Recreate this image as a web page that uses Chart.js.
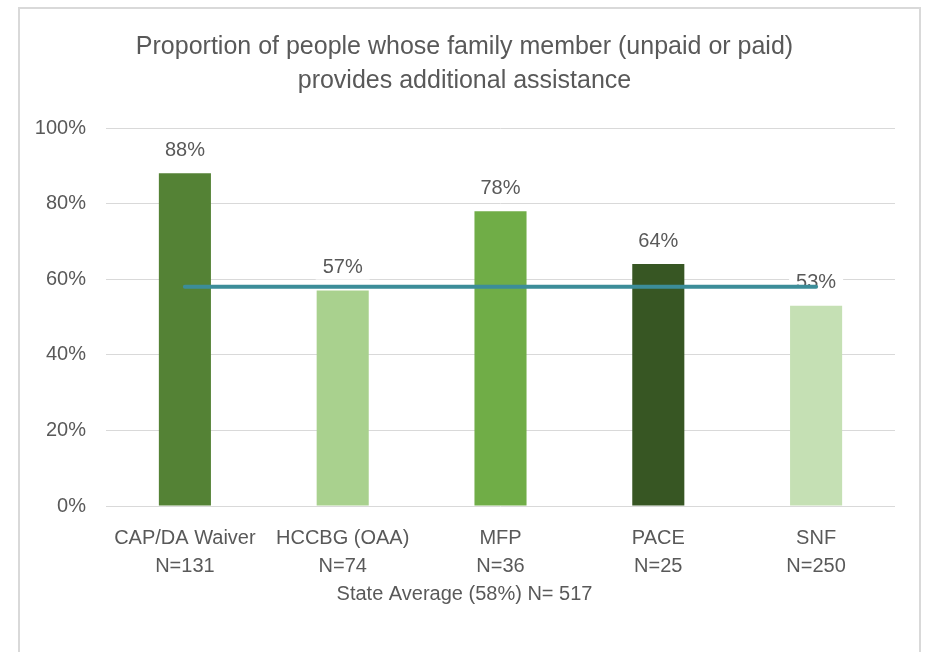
<!DOCTYPE html>
<html>
<head>
<meta charset="utf-8">
<script src="https://cdn.jsdelivr.net/npm/chart.js@4/dist/chart.umd.min.js"></script>
<style>
  html, body { margin: 0; padding: 0; background: #fff; overflow: hidden; }
  #frame {
    position: absolute; left: 18px; top: 7px;
    width: 899px; height: 660px;
    border: 2px solid #d9d9d9;
  }
  #myChart { position: absolute; left: 34px; top: 9px; display: block; }
</style>
</head>
<body>
<div id="frame"></div>
<canvas id="myChart" width="885" height="643"></canvas>
<script>
const CATEGORIES = ['CAP/DA Waiver', 'HCCBG (OAA)', 'MFP', 'PACE', 'SNF'];
const N_LABELS = ['N=131', 'N=74', 'N=36', 'N=25', 'N=250'];
const VALUES = [88, 57, 78, 64, 53];
const STATE_AVERAGE = [58, 58, 58, 58, 58];
const BAR_COLORS = ['#548235', '#a9d18e', '#70ad47', '#375623', '#c5e0b4'];
const Y_TICKS = [0, 20, 40, 60, 80, 100];

const TEXT = '#595959';
const FONT = "'Liberation Sans', Arial, sans-serif";

// labels above bars, white box behind them (line is drawn after, on top)
const barLabels = {
    id: 'barLabels',
    afterDatasetDraw(chart, args) {
        if (args.index !== 0) return;
        const ctx = chart.ctx;
        ctx.save();
        ctx.font = '20px ' + FONT;
        ctx.textAlign = 'center';
        ctx.textBaseline = 'middle';
        args.meta.data.forEach((bar, i) => {
            const txt = VALUES[i] + '%';
            const w = ctx.measureText(txt).width;
            const y = bar.y - 23;
            ctx.fillStyle = '#fff';
            ctx.fillRect(bar.x - w / 2 - 7, y - 12, w + 14, 24);
            ctx.fillStyle = TEXT;
            ctx.fillText(txt, bar.x, y);
        });
        ctx.restore();
    }
};

let ctx = document.getElementById('myChart').getContext('2d');

let chart = new Chart(ctx, {
    type: 'bar',
    data: {
        labels: CATEGORIES.map((c, i) => [c, N_LABELS[i]]),
        datasets: [{
            type: 'bar',
            label: 'Proportion',
            data: VALUES,
            backgroundColor: BAR_COLORS,
            barPercentage: 0.33,
            categoryPercentage: 1,
            order: 1
        }, {
            type: 'line',
            label: 'State Average',
            data: STATE_AVERAGE,
            borderColor: '#3c8d99',
            borderWidth: 4,
            borderCapStyle: 'round',
            pointRadius: 0,
            fill: false,
            order: 0
        }]
    },
    options: {
        responsive: false,
        animation: false,
        layout: { padding: { left: 0, right: 24, top: 0, bottom: 46 } },
        plugins: {
            legend: { display: false },
            tooltip: { enabled: false },
            title: {
                display: true,
                text: ['Proportion of people whose family member (unpaid or paid)', 'provides additional assistance'],
                color: TEXT,
                font: { family: FONT, size: 25, weight: 'normal', lineHeight: 1.36 },
                padding: { top: 21, bottom: 30 }
            },
            subtitle: {
                display: true,
                position: 'bottom',
                text: 'State Average (58%) N= 517',
                color: TEXT,
                font: { family: FONT, size: 20, weight: 'normal', lineHeight: 1.2 },
                padding: { top: 0, bottom: 0 }
            }
        },
        scales: {
            x: {
                grid: { display: false, drawTicks: false },
                border: { display: false },
                ticks: {
                    color: TEXT,
                    font: { family: FONT, size: 20, lineHeight: 1.4 },
                    padding: 18,
                    maxRotation: 0,
                    autoSkip: false
                },
                afterFit(s) { s.height = 76; }
            },
            y: {
                min: 0,
                max: 100,
                afterBuildTicks(s) { s.ticks = Y_TICKS.map(v => ({ value: v })); },
                grid: { color: '#d9d9d9', lineWidth: 1, drawTicks: false },
                border: { display: false },
                ticks: {
                    color: TEXT,
                    font: { family: FONT, size: 20 },
                    padding: 20,
                    callback: v => v + '%'
                },
                afterFit(s) { s.width = 72; }
            }
        }
    },
    plugins: [barLabels]
});
</script>
</body>
</html>
